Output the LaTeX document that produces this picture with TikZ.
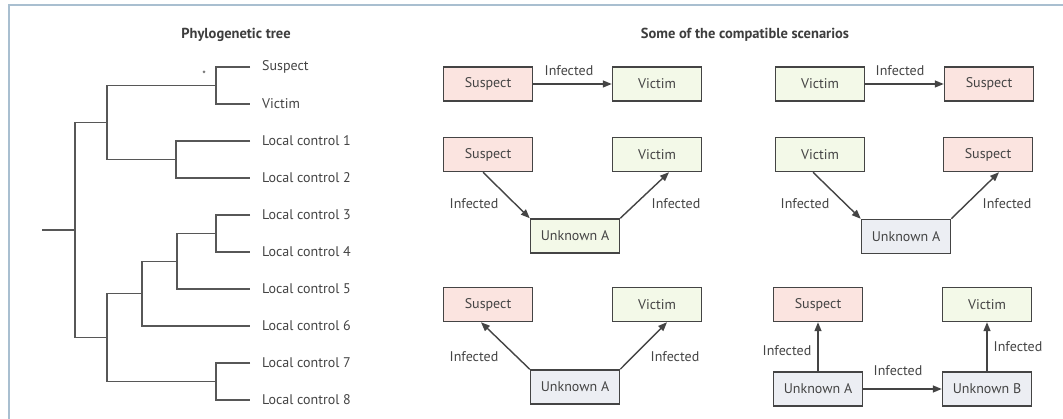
\documentclass[tikz,border=0pt]{standalone}
\usepackage{fontspec}
\setmainfont{PT Sans}
\usetikzlibrary{arrows.meta}
\definecolor{frame}{HTML}{A9BFD0}
\definecolor{ink}{HTML}{444444}
\definecolor{susp}{HTML}{FBE4E0}
\definecolor{vict}{HTML}{F3F9E8}
\definecolor{unk}{HTML}{ECEEF3}
\tikzset{
  box/.style={draw=ink, line width=1.5pt, minimum width=89pt, minimum height=34pt, inner sep=0pt, font=\fontsize{14}{16}\selectfont, text=ink},
  sbox/.style={box, fill=susp},
  vbox/.style={box, fill=vict},
  ubox/.style={box, fill=unk},
  arr/.style={draw=ink, line width=1.4pt, -{Triangle[length=9pt,width=7pt]}},
  lbl/.style={font=\fontsize{14}{16}\selectfont, text=ink, inner sep=0pt},
  leaf/.style={font=\fontsize{14}{16}\selectfont, text=ink, inner sep=0pt, anchor=west},
  title/.style={font=\fontsize{14.5}{16}\selectfont\bfseries, text=ink!90!black},
  br/.style={draw=ink!90, line width=1.6pt}
}
\begin{document}
\begin{tikzpicture}[x=1pt,y=-1pt]
\useasboundingbox (0,0) rectangle (1063,419);
\fill[white] (0,0) rectangle (1063,419);
% frame
\draw[frame, line width=2.2pt] (9,420) -- (9,5) -- (1064,5);

% titles
\node[title] (t1) at (236,35) {Phylogenetic tree};
\node[title] (t2) at (745,35) {Some of the compatible scenarios};

% tree leaves
\foreach \n/\y/\t in {l0/67/Suspect, l1/104/Victim, l2/141/Local control 1, l3/178/Local control 2, l4/215/Local control 3, l5/252/Local control 4, l6/289/Local control 5, l7/326/Local control 6, l8/363/Local control 7, l9/400/Local control 8}{
  \coordinate (\n) at (250,\y);
  \node[leaf] (\n t) at (262,\y) {\t};
}
% internal nodes
\coordinate (a) at (216,85.5);   % suspect+victim
\coordinate (b) at (176,159.5);  % lc1+lc2
\coordinate (c) at (107,122.5);  % a+b
\coordinate (d) at (216,233.5);  % lc3+lc4
\coordinate (e) at (177,261.5);  % d+lc5
\coordinate (f) at (142,293.5);  % e+lc6
\coordinate (g) at (216,381.5);  % lc7+lc8
\coordinate (h) at (107,337.5);  % f+g
\coordinate (r) at (75,230);     % root
\coordinate (stub) at (42,230);

\draw[br] (l0) -| (a) |- (l1);
\draw[br] (l2) -| (b) |- (l3);
\draw[br] (a) -| (c) |- (b);
\draw[br] (l4) -| (d) |- (l5);
\draw[br] (d) -| (e) |- (l6);
\draw[br] (e) -| (f) |- (l7);
\draw[br] (l8) -| (g) |- (l9);
\draw[br] (f) -| (h) |- (g);
\draw[br] (c) -| (r) |- (h);
\draw[br] (stub) -- (r);
\node[circle, fill=ink!70, inner sep=0pt, minimum size=3pt] (dot) at (204,72) {};

% scenario 1
\node[sbox] (s1) at (488,84) {Suspect};
\node[vbox] (v1) at (657,84) {Victim};
\draw[arr] (s1) -- (v1);
\node[lbl] (i1) at (569,71) {Infected};

% scenario 2
\node[vbox] (v2) at (820,84) {Victim};
\node[sbox] (s2) at (989,84) {Suspect};
\draw[arr] (v2) -- (s2);
\node[lbl] (i2) at (900,71) {Infected};

% scenario 3
\node[sbox] (s3) at (488,154.5) {Suspect};
\node[vbox] (v3) at (657,154.5) {Victim};
\node[vbox] (u3) at (575,236) {Unknown A};
\draw[arr] ([xshift=-5pt]s3.south) -- (u3.north west);
\draw[arr] (u3.north east) -- ([xshift=12pt]v3.south);
\node[lbl] (i3a) at (474,204) {Infected};
\node[lbl] (i3b) at (676,204) {Infected};

% scenario 4
\node[vbox] (v4) at (820,154.5) {Victim};
\node[sbox] (s4) at (988,154.5) {Suspect};
\node[ubox] (u4) at (906,236.5) {Unknown A};
\draw[arr] ([xshift=-7pt]v4.south) -- (u4.north west);
\draw[arr] (u4.north east) -- ([xshift=11pt]s4.south);
\node[lbl] (i4a) at (805,204) {Infected};
\node[lbl] (i4b) at (1007,204) {Infected};

% scenario 5
\node[sbox] (s5) at (488,304.5) {Suspect};
\node[vbox] (v5) at (657,304.5) {Victim};
\node[ubox] (u5) at (575,387) {Unknown A};
\draw[arr] (u5.north west) -- ([xshift=-7pt]s5.south);
\draw[arr] (u5.north east) -- ([xshift=10pt]v5.south);
\node[lbl] (i5a) at (474,357) {Infected};
\node[lbl] (i5b) at (675,357) {Infected};

% scenario 6
\node[sbox] (s6) at (818,304.5) {Suspect};
\node[vbox] (v6) at (987,304.5) {Victim};
\node[ubox] (u6) at (818,389) {Unknown A};
\node[ubox] (w6) at (987,389) {Unknown B};
\draw[arr] (u6) -- (s6);
\draw[arr] (w6) -- (v6);
\draw[arr] (u6) -- (w6);
\node[lbl] (i6a) at (787,351) {Infected};
\node[lbl] (i6b) at (898,371) {Infected};
\node[lbl] (i6c) at (1018,347) {Infected};
\end{tikzpicture}
\end{document}
